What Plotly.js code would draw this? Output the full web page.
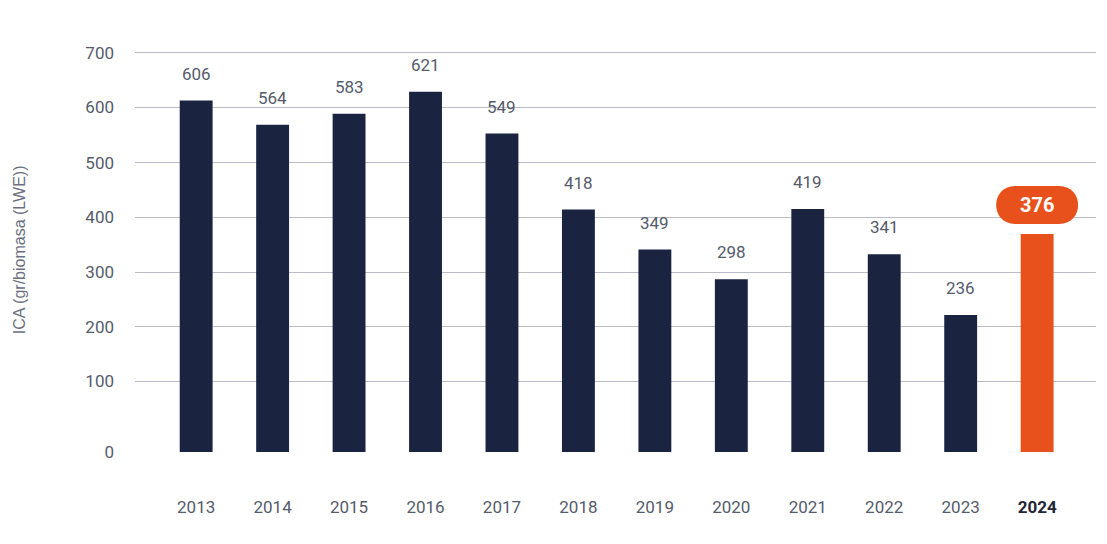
<!DOCTYPE html>
<html>
<head>
<meta charset="utf-8">
<script src="https://cdn.plot.ly/plotly-3.0.1.min.js"></script>
<style>html,body{margin:0;padding:0;background:#fff;}#chart{width:1107px;height:544px;}</style>
</head>
<body>
<div id="chart"></div>
<script>
// Data
const years = ["2013","2014","2015","2016","2017","2018","2019","2020","2021","2022","2023","2024"];
const values = [606, 564, 583, 621, 549, 418, 349, 298, 419, 341, 236, 376];
const yTickLabels = ["0","100","200","300","400","500","600","700"];
const yAxisTitle = "ICA (gr/biomasa (LWE))";

const NAVY = "#1a2440";
const ORANGE = "#e8501c";
const TEXT = "#555b6b";
const GRID = "#b9bcc7";

const lastIdx = years.length - 1;
const barColors = years.map((y, i) => i === lastIdx ? ORANGE : NAVY);
const xTickText = years.map((y, i) => i === lastIdx ? '<b><span style="color:#1f2637">' + y + '</span></b>' : y);

const trace = {
  type: "bar",
  x: years.map((y, i) => i),
  y: values,
  marker: {color: barColors, line: {width: 0}},
  width: 0.43,
  hoverinfo: "x+y"
};

const annotations = years.map((y, i) => {
  if (i === lastIdx) {
    return {x: i, y: values[i], xref: "x", yref: "y", text: "<b>" + values[i] + "</b>",
      showarrow: false, yanchor: "middle", yshift: 29,
      font: {family: "Roboto, sans-serif", size: 20, color: "#ffffff"}};
  }
  return {x: i, y: values[i], xref: "x", yref: "y", text: String(values[i]),
    showarrow: false, yanchor: "middle", yshift: 27,
    font: {family: "Roboto, sans-serif", size: 17, color: TEXT}};
});
annotations.push({
  xref: "paper", yref: "paper", x: -0.1207, y: 0.49, text: yAxisTitle,
  textangle: -90, showarrow: false, xanchor: "center", yanchor: "middle",
  font: {family: "Liberation Sans, Arial, sans-serif", size: 16, color: "#6b7080"}
});

// Pill behind the highlighted value (anchored to the last bar)
const shapes = [{
  type: "path", xref: "x", yref: "y",
  xsizemode: "pixel", ysizemode: "pixel",
  xanchor: lastIdx, yanchor: values[lastIdx],
  path: "M -22,10 L 22,10 C 47.3,10 47.3,48 22,48 L -22,48 C -47.3,48 -47.3,10 -22,10 Z",
  fillcolor: ORANGE, line: {width: 0}, layer: "above"
}];

const layout = {
  width: 1107, height: 544,
  margin: {l: 135, r: 11, t: 40, b: 92, pad: 0},
  paper_bgcolor: "#ffffff", plot_bgcolor: "#ffffff",
  showlegend: false,
  xaxis: {
    range: [-0.8, 11.77],
    tickmode: "array", tickvals: years.map((y, i) => i), ticktext: xTickText,
    showgrid: false, zeroline: false, showline: false, ticks: "",
    ticklabelstandoff: 43,
    tickfont: {family: "Roboto, sans-serif", size: 17, color: TEXT},
    fixedrange: true
  },
  yaxis: {
    range: [0, 710.3],
    tickmode: "array",
    tickvals: [0, 122, 216, 310, 405, 499, 594, 688],
    ticktext: yTickLabels,
    showgrid: true, gridcolor: GRID, gridwidth: 1,
    zeroline: false, showline: false, ticks: "",
    ticklabelstandoff: 20,
    tickfont: {family: "Roboto, sans-serif", size: 17, color: TEXT},
    fixedrange: true
  },
  annotations: annotations,
  shapes: shapes,
  bargap: 0.57
};

Plotly.newPlot("chart", [trace], layout, {displayModeBar: false, staticPlot: true});
</script>
</body>
</html>
